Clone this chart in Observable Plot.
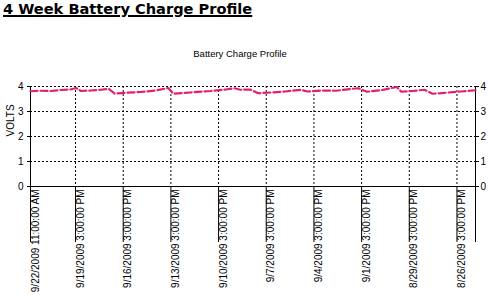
<!DOCTYPE html>
<html>
<head>
<meta charset="utf-8">
<script src="https://cdn.jsdelivr.net/npm/d3@7"></script>
<script src="https://cdn.jsdelivr.net/npm/@observablehq/plot@0.6"></script>
<style>
  html, body { margin: 0; padding: 0; background: #fff; }
  body { width: 489px; height: 297px; position: relative; overflow: hidden; font-family: "Liberation Sans", Arial, sans-serif; }
  #title { position: absolute; left: 3px; top: 0px; font-family: "DejaVu Sans", sans-serif; font-weight: bold; font-size: 14.6px; line-height: 17px; text-decoration: underline; text-decoration-thickness: 2px; color: #000; white-space: nowrap; }
  #subtitle { position: absolute; left: 0; width: 480px; top: 48px; text-align: center; font-size: 9.5px; line-height: 12px; color: #000; }
  #chart { position: absolute; left: 0; top: 60px; }
</style>
</head>
<body>
<div id="title">4 Week Battery Charge Profile</div>
<div id="subtitle">Battery Charge Profile</div>
<div id="chart"></div>
<script>
// Time of the newest reading (left edge) and oldest (right edge)
const startTime = "2009-09-22T11:00:00Z";
const endTime = "2009-08-25T11:00:00Z";

// Readings: hours before startTime and battery voltage
const hoursBefore = [0, 15, 30, 45, 60, 69, 76, 91, 106, 118, 127, 143, 166, 189, 208, 216, 242, 272, 295, 308, 317, 332, 344, 362, 385, 408, 418, 438, 461, 483, 495, 508, 529, 553, 560, 577, 595, 607, 627, 650, 672];
const volts = [3.81, 3.83, 3.82, 3.86, 3.88, 3.94, 3.82, 3.84, 3.87, 3.91, 3.72, 3.75, 3.78, 3.84, 3.94, 3.71, 3.76, 3.82, 3.88, 3.93, 3.87, 3.88, 3.73, 3.76, 3.80, 3.87, 3.80, 3.84, 3.83, 3.90, 3.93, 3.79, 3.85, 3.98, 3.79, 3.82, 3.87, 3.71, 3.75, 3.80, 3.85];

// Category axis ticks
const tickDates = ["2009-09-22T11:00:00Z", "2009-09-19T15:00:00Z", "2009-09-16T15:00:00Z", "2009-09-13T15:00:00Z", "2009-09-10T15:00:00Z", "2009-09-07T15:00:00Z", "2009-09-04T15:00:00Z", "2009-09-01T15:00:00Z", "2009-08-29T15:00:00Z", "2009-08-26T15:00:00Z"];
const tickLabels = ["9/22/2009 11:00:00 AM", "9/19/2009 3:00:00 PM", "9/16/2009 3:00:00 PM", "9/13/2009 3:00:00 PM", "9/10/2009 3:00:00 PM", "9/7/2009 3:00:00 PM", "9/4/2009 3:00:00 PM", "9/1/2009 3:00:00 PM", "8/29/2009 3:00:00 PM", "8/26/2009 3:00:00 PM"];
const yTicks = [0, 1, 2, 3, 4];

const t0 = new Date(startTime);
const t1 = new Date(endTime);
const data = hoursBefore.map((h, i) => ({date: new Date(t0.getTime() - h * 3600e3), v: volts[i]}));
const ticks = tickDates.map((d, i) => ({date: new Date(d), label: tickLabels[i]}));

const chart = Plot.plot({
  width: 489,
  height: 237,
  marginTop: 26,
  marginBottom: 111,
  marginLeft: 30,
  marginRight: 14,
  style: {fontFamily: "'Liberation Sans', Arial, sans-serif", fontSize: "10px", color: "#000", background: "#fff"},
  x: {type: "utc", domain: [t0, t1]},
  y: {domain: [0, 4]},
  marks: [
    Plot.gridY([1, 2, 3, 4], {stroke: "#000", strokeOpacity: 1, strokeDasharray: "2,2", strokeWidth: 1}),
    Plot.gridX(ticks.slice(1).map(d => d.date), {stroke: "#000", strokeOpacity: 1, strokeDasharray: "2,2", strokeWidth: 1}),
    Plot.axisY(yTicks, {anchor: "left", tickSize: 3, tickPadding: 4, label: null, fontSize: 10}),
    Plot.axisY(yTicks, {anchor: "right", tickSize: 3, tickPadding: 2, label: null, fontSize: 10}),
    Plot.axisX([...ticks.map(d => d.date), t1], {tickSize: 56, tickFormat: () => "", label: null}),
    Plot.ruleY([0], {stroke: "#000", strokeWidth: 1}),
    Plot.ruleX([t0, t1], {stroke: "#000", strokeWidth: 1}),
    Plot.line(data, {x: "date", y: "v", stroke: "#e61e6e", strokeWidth: 2.2, strokeDasharray: "7,3"}),
    Plot.text(ticks, {x: "date", y: () => 0, text: "label", rotate: -90, textAnchor: "end", dx: 5, dy: 3, fontSize: 10, fill: "#000"}),
    Plot.text(["VOLTS"], {frameAnchor: "left", dx: -20, rotate: -90, fontSize: 10, fill: "#000"})
  ]
});
document.getElementById("chart").appendChild(chart);
</script>
</body>
</html>
